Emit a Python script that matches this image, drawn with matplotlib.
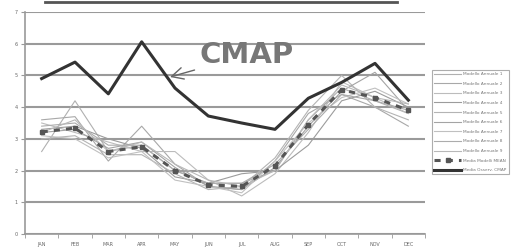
import numpy as np
import matplotlib
matplotlib.use("Agg")
import matplotlib.pyplot as plt
from matplotlib.lines import Line2D

months = ["JAN", "FEB", "MAR", "APR", "MAY", "JUN",
          "JUL", "AUG", "SEP", "OCT", "NOV", "DEC"]

# single model runs (thin grey lines)
models = [
    [2.6, 4.2, 2.6, 2.8, 2.0, 1.6, 1.6, 2.0, 3.6, 4.6, 4.2, 3.8],
    [3.6, 3.7, 2.3, 3.4, 2.2, 1.5, 1.4, 2.3, 3.8, 4.4, 4.0, 3.4],
    [3.5, 3.2, 2.9, 2.6, 2.6, 1.7, 1.2, 1.9, 3.2, 4.8, 4.3, 3.8],
    [3.3, 3.4, 3.0, 2.7, 1.8, 1.6, 1.9, 2.0, 2.8, 4.2, 4.5, 4.0],
    [3.0, 3.1, 2.5, 2.5, 1.9, 1.4, 1.5, 2.4, 3.9, 5.0, 4.0, 3.6],
    [3.2, 3.3, 2.7, 2.9, 2.1, 1.5, 1.4, 2.1, 3.4, 4.5, 5.1, 3.9],
    [3.1, 3.0, 2.4, 2.6, 1.7, 1.5, 1.3, 2.3, 3.5, 4.3, 4.6, 4.1],
    [3.4, 3.5, 2.8, 2.8, 2.0, 1.6, 1.6, 2.2, 3.3, 4.4, 4.2, 3.9],
    [3.2, 3.6, 2.6, 2.9, 2.2, 1.7, 1.5, 2.0, 3.6, 4.7, 4.3, 4.1],
]
mean_vals = [3.22, 3.34, 2.6, 2.75, 2.0, 1.55, 1.5, 2.15, 3.45, 4.55, 4.3, 3.9]
cmap_vals = [4.9, 5.42, 4.42, 6.06, 4.6, 3.72, 3.5, 3.3, 4.28, 4.78, 5.38, 4.22]

model_labels = ["Modello Annuale %d" % (i + 1) for i in range(len(models))]
mean_label = "Media Modelli MEAN"
cmap_label = "Media Osserv. CMAP"

fig = plt.figure(figsize=(5.15, 2.48), dpi=100)
ax = fig.add_axes([25 / 515, 1 - 234 / 248, 400 / 515, 222 / 248])

x = np.arange(len(months))
greys = ["#b0b0b0", "#a8a8a8", "#bcbcbc", "#9c9c9c", "#b4b4b4",
         "#a4a4a4", "#c0c0c0", "#acacac", "#b8b8b8"]
handles = []
for vals, lab, c in zip(models, model_labels, greys):
    h, = ax.plot(x, vals, color=c, lw=0.8, label=lab)
    handles.append(h)
h, = ax.plot(x, mean_vals, color="#555555", lw=2.2, ls=(0, (2, 2)),
             marker="s", ms=2.5, label=mean_label)
handles.append(h)
h, = ax.plot(x, cmap_vals, color="#333333", lw=2.2, label=cmap_label)
handles.append(h)

ax.set_xlim(-0.5, 11.5)
ax.set_ylim(0, 7)
ax.set_yticks(range(8))
ax.set_yticklabels([str(v) for v in range(8)], fontsize=3.5, color="#666666")
ax.yaxis.grid(True, color="#9a9a9a", lw=1.5)
ax.set_axisbelow(True)
ax.set_xticks(x)
ax.set_xticklabels(months, fontsize=3.5, color="#666666")
ax.set_xticks(np.arange(-0.5, 12, 1), minor=True)
ax.tick_params(axis="x", which="major", length=0, pad=6)
ax.tick_params(axis="x", which="minor", length=3, color="#999999")
ax.tick_params(axis="y", length=3, color="#999999", pad=2)
for s in ["top", "right"]:
    ax.spines[s].set_visible(False)
for s in ["left", "bottom"]:
    ax.spines[s].set_color("#999999")
    ax.spines[s].set_linewidth(1.2)

ax.annotate("CMAP", xy=(3.85, 4.95), xytext=(4.75, 5.2),
            fontsize=21, fontweight="bold", color="#777777",
            va="bottom", ha="left",
            arrowprops=dict(arrowstyle="->", color="#666666", lw=1.0,
                            shrinkA=2, shrinkB=0))

leg = fig.legend(handles=handles, loc="upper left",
                 bbox_to_anchor=(432 / 515, 1 - 70 / 248),
                 fontsize=3.1, frameon=True, fancybox=False,
                 edgecolor="#999999", handlelength=6.2, handletextpad=0.6,
                 labelspacing=1.3, borderpad=0.5, borderaxespad=0)
leg.get_frame().set_linewidth(0.8)
for t in leg.get_texts():
    t.set_color("#777777")

fig.add_artist(Line2D([45 / 515, 397 / 515], [1 - 1.5 / 248, 1 - 1.5 / 248],
                      color="#555555", lw=2))

fig.savefig("out.png", dpi=100)
